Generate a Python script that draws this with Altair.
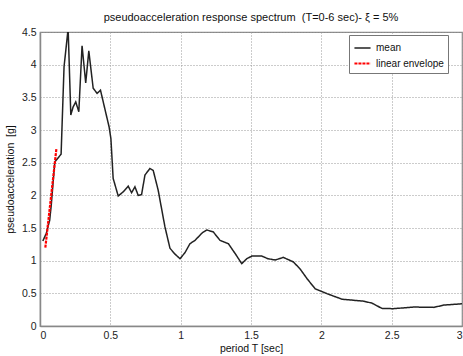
import altair as alt
import pandas as pd

# Mean pseudoacceleration spectrum (period in s, Sa in g)
period = [0.02, 0.045, 0.069, 0.08, 0.105, 0.15, 0.171, 0.2, 0.219, 0.235, 0.254, 0.276,
          0.299, 0.325, 0.347, 0.378, 0.406, 0.43, 0.468, 0.491, 0.504, 0.52, 0.556, 0.59,
          0.627, 0.651, 0.675, 0.698, 0.722, 0.746, 0.781, 0.805, 0.84, 0.888, 0.924, 0.96,
          0.995, 1.03, 1.066, 1.102, 1.15, 1.185, 1.232, 1.28, 1.339, 1.387, 1.434, 1.47,
          1.506, 1.577, 1.62, 1.672, 1.73, 1.802, 1.85, 1.9, 1.956, 2.04, 2.147, 2.3, 2.36,
          2.43, 2.51, 2.66, 2.8, 2.87, 3.0]
mean_sa = [1.30, 1.42, 1.62, 1.85, 2.51, 2.63, 3.97, 4.55, 3.23, 3.35, 3.43, 3.28,
           4.29, 3.72, 4.21, 3.64, 3.56, 3.61, 3.26, 3.05, 2.87, 2.26, 1.99, 2.05,
           2.14, 2.04, 2.13, 2.00, 2.01, 2.31, 2.41, 2.38, 2.08, 1.52, 1.19, 1.10,
           1.03, 1.12, 1.26, 1.31, 1.42, 1.47, 1.44, 1.31, 1.26, 1.11, 0.955, 1.03,
           1.07, 1.07, 1.03, 1.01, 1.05, 0.98, 0.87, 0.72, 0.57, 0.495, 0.41, 0.38, 0.35,
           0.27, 0.265, 0.29, 0.285, 0.32, 0.34]

# Linear envelope of the short-period branch
env_period = [0.038, 0.117]
env_sa = [1.20, 2.72]

series_names = ["mean", "linear envelope"]

df = pd.concat([
    pd.DataFrame({"T": period, "Sa": mean_sa, "series": series_names[0]}),
    pd.DataFrame({"T": env_period, "Sa": env_sa, "series": series_names[1]}),
], ignore_index=True)

font = "Liberation Sans"

chart = alt.Chart(df).mark_line(clip=True).encode(
    x=alt.X("T:Q", title="period T [sec]",
            scale=alt.Scale(domain=[0, 3], nice=False),
            axis=alt.Axis(values=[0, 0.5, 1, 1.5, 2, 2.5, 3], format="~g")),
    y=alt.Y("Sa:Q", title="pseudoacceleration\u00a0\u00a0[g]",
            scale=alt.Scale(domain=[0, 4.5], nice=False),
            axis=alt.Axis(values=[0, 0.5, 1, 1.5, 2, 2.5, 3, 3.5, 4, 4.5], format="~g")),
    color=alt.Color("series:N",
                    scale=alt.Scale(domain=series_names, range=["#222222", "#ff0000"]),
                    legend=alt.Legend(title=None, orient="none", legendX=309, legendY=3,
                                      fillColor="white", strokeColor="#777777",
                                      padding=4, symbolType="stroke", symbolSize=260,
                                      symbolStrokeWidth=1.5, labelFontSize=10,
                                      labelFont=font, labelColor="#111111",
                                      rowPadding=1, offset=0)),
    strokeDash=alt.StrokeDash("series:N",
                              scale=alt.Scale(domain=series_names, range=[[1, 0], [3, 1]]),
                              legend=None),
    strokeWidth=alt.StrokeWidth("series:N",
                                scale=alt.Scale(domain=series_names, range=[1.5, 2.2]),
                                legend=None),
    order=alt.Order("T:Q"),
).properties(
    width=422,
    height=294,
    title=alt.TitleParams("pseudoacceleration response spectrum\u00a0\u00a0(T=0-6 sec)- ξ = 5%",
                          fontSize=11, fontWeight="normal", font=font, color="#111111",
                          offset=4),
    padding={"left": 40, "top": 32, "right": 1, "bottom": 30},
    autosize=alt.AutoSizeParams(type="none"),
).configure_view(
    stroke="#888888", strokeWidth=1.2
).configure_axis(
    grid=True, gridColor="#999999", gridDash=[1, 2], gridWidth=1,
    domainColor="#888888", domainWidth=1.5, ticks=False,
    labelFont=font, labelFontSize=10.5, labelColor="#222222", labelPadding=4,
    titleFont=font, titleFontSize=10.5, titleFontWeight="normal", titleColor="#111111",
).configure_axisY(
    titlePadding=6
).configure_axisX(
    titlePadding=3
)

chart.save("out.html", embed_options={"renderer": "svg", "actions": False})
